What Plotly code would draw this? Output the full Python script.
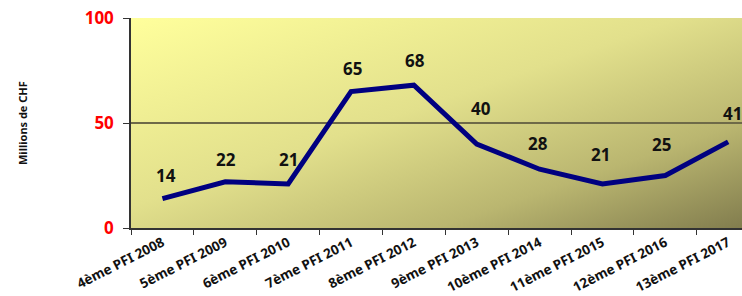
import base64
import plotly.graph_objects as go

categories = ["4ème PFI 2008", "5ème PFI 2009", "6ème PFI 2010", "7ème PFI 2011",
              "8ème PFI 2012", "9ème PFI 2013", "10ème PFI 2014", "11ème PFI 2015",
              "12ème PFI 2016", "13ème PFI 2017"]
values = [14, 22, 21, 65, 68, 40, 28, 21, 25, 41]
y_ticks = [0, 50, 100]

# label offsets (style)
label_yshift = [23, 22, 24, 23, 25, 36, 26, 29, 31, 28]
label_xshift = [4, 1, 0, 1, 1, 4, -2, -2, -4, 4]

svg = """<svg xmlns='http://www.w3.org/2000/svg' width='100' height='100' viewBox='0 0 100 100' preserveAspectRatio='none'>
<defs><linearGradient id='g' x1='0' y1='0' x2='1' y2='1'>
<stop offset='0' stop-color='#FFFF9C'/>
<stop offset='0.45' stop-color='#E2E08C'/>
<stop offset='0.75' stop-color='#BAB670'/>
<stop offset='1' stop-color='#827D4E'/>
</linearGradient></defs>
<rect x='0' y='0' width='100' height='100' fill='url(#g)'/></svg>"""
bg_uri = "data:image/svg+xml;base64," + base64.b64encode(svg.encode()).decode()

fig = go.Figure()
fig.add_trace(go.Scatter(
    x=categories, y=values, mode="lines",
    line=dict(color="#000080", width=5),
    hoverinfo="skip", showlegend=False,
))

for c, v, ys, xs in zip(categories, values, label_yshift, label_xshift):
    fig.add_annotation(x=c, y=v, text=f"<b>{v}</b>", showarrow=False,
                       yshift=ys, xshift=xs,
                       font=dict(family="Noto Sans", size=17, color="#111111"))

fig.add_annotation(xref="paper", yref="paper", x=-(131 - 22) / 611, y=0.5,
                   xanchor="center", yanchor="middle",
                   text="<b>Millions de CHF</b>", textangle=-90, showarrow=False,
                   font=dict(family="Noto Sans", size=11, color="#111111"))

fig.add_layout_image(dict(source=bg_uri, xref="paper", yref="paper", x=0, y=1,
                          sizex=1, sizey=1, sizing="stretch", layer="below",
                          xanchor="left", yanchor="top"))

fig.update_layout(
    width=742, height=296,
    margin=dict(l=131, r=0, t=18, b=68, autoexpand=False),
    paper_bgcolor="white", plot_bgcolor="rgba(0,0,0,0)",
    xaxis=dict(
        type="category", range=[-0.5, 9.22], tickson="boundaries",
        ticks="outside", ticklen=5, tickcolor="#333333", automargin=False,
        showline=True, linecolor="#333333", linewidth=1.5,
        showgrid=False, tickangle=-27,
        tickfont=dict(family="Noto Sans", size=13.5, color="#111111", weight="bold"),
    ),
    yaxis=dict(
        range=[0, 100], tickvals=y_ticks, ticks="outside", ticklen=6,
        tickcolor="#333333", ticklabelstandoff=6, automargin=False,
        showline=True, linecolor="#333333", linewidth=1.5,
        showgrid=True, gridcolor="#6E6A48", gridwidth=1.5, zeroline=False,
        tickfont=dict(family="Noto Sans", size=17, color="#FF0000", weight="bold"),
    ),
)

fig.write_html("out.html", config={"displayModeBar": False},
               post_script="document.body.style.margin='0';document.body.style.overflow='hidden';")
